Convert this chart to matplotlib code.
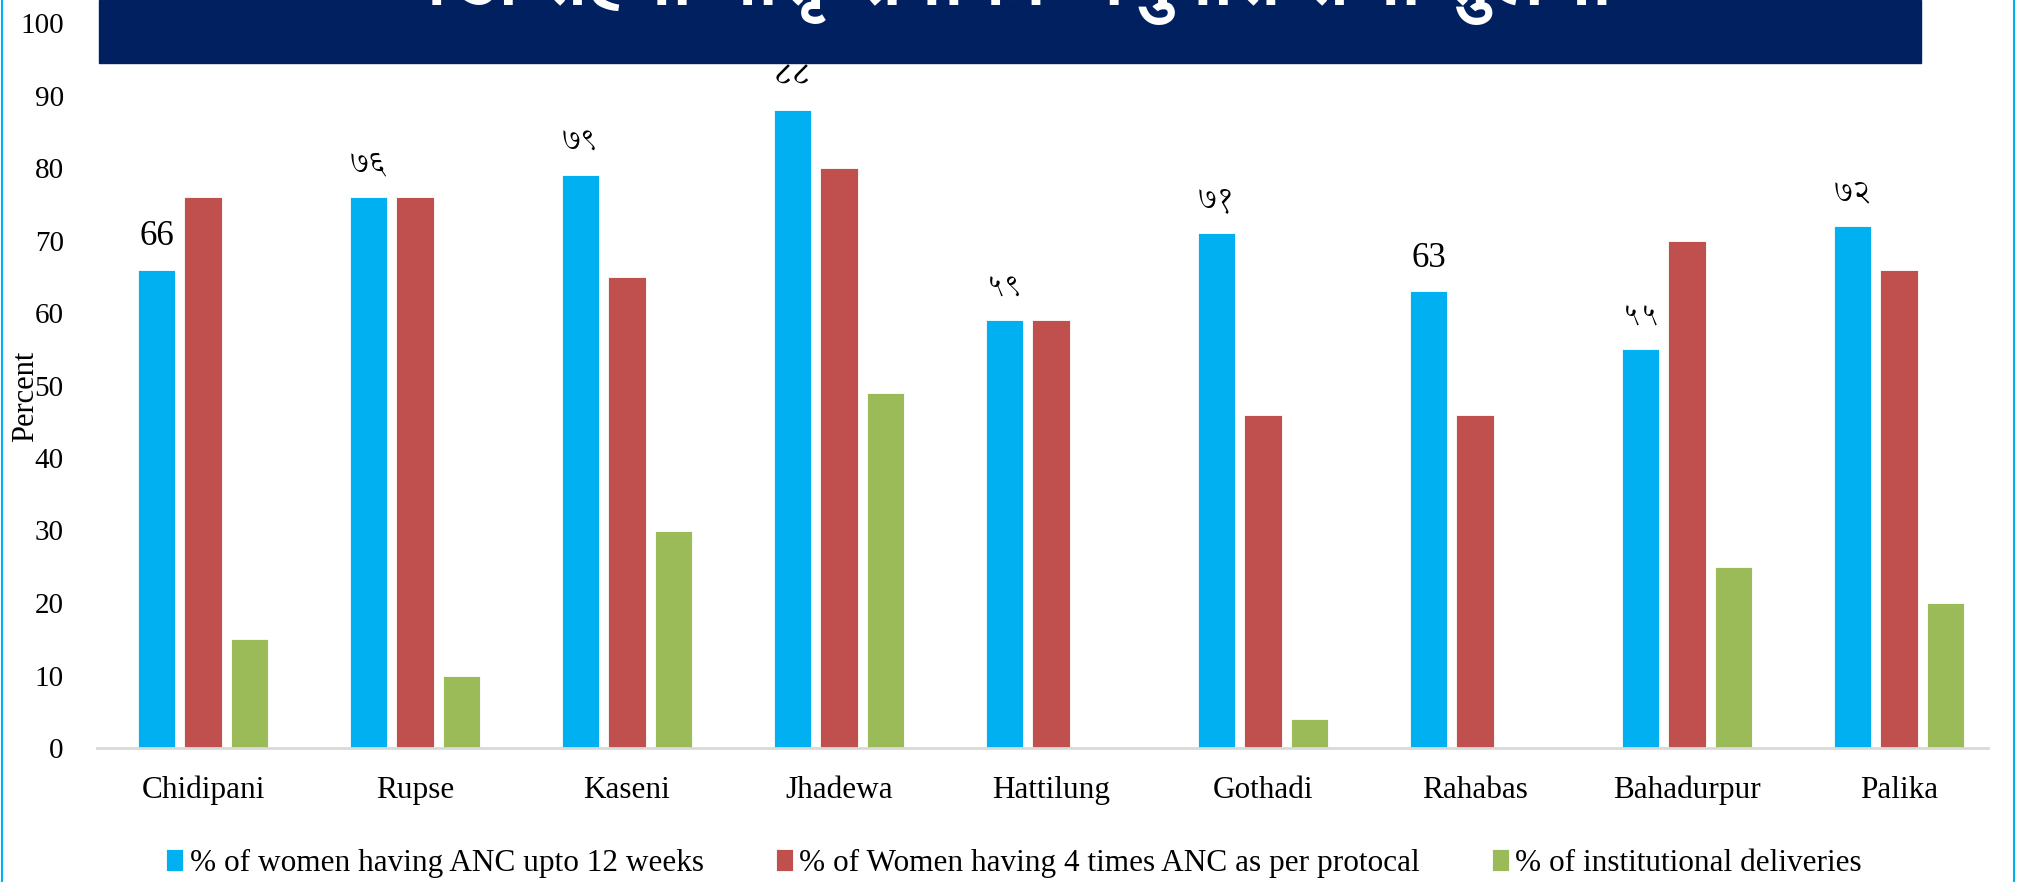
import matplotlib
matplotlib.use("Agg")
import matplotlib.pyplot as plt
import numpy as np

villages = ["Chidipani", "Rupse", "Kaseni", "Jhadewa", "Hattilung",
            "Gothadi", "Rahabas", "Bahadurpur", "Palika"]
anc_12_weeks = [66, 76, 79, 88, 59, 71, 63, 55, 72]
anc_4_times = [76, 76, 65, 80, 59, 46, 46, 70, 66]
inst_delivery = [15, 10, 30, 49, 0, 4, 0, 25, 20]
# labels on the blue bars, mixed digits as in the original slide
value_labels = ["66", "७६", "७९", "८८", "५९", "७१", "63", "५५", "७२"]
title = "वडा तहमा मातृ सेवाको अनुपात तथा तुलना"

fig = plt.figure(figsize=(20.19, 8.82), dpi=100)
ax = fig.add_axes([97 / 2019, 1 - 748 / 882, (2005 - 97) / 2019, (748 - 23) / 882])

x = np.arange(len(villages))
w = 0.175
step = 0.219
ax.bar(x - step, anc_12_weeks, w, color="#00B0F0", edgecolor="white", linewidth=0.6,
       label="% of women having ANC upto 12 weeks")
ax.bar(x, anc_4_times, w, color="#C0504D", edgecolor="white", linewidth=0.6,
       label="% of Women having 4 times ANC as per protocal")
ax.bar(x + step, inst_delivery, w, color="#9BBB59", edgecolor="white", linewidth=0.6,
       label="% of institutional deliveries")

for xi, v, lab in zip(x, anc_12_weeks, value_labels):
    if lab.isascii():
        ax.annotate(lab, (xi - step, v), xytext=(0, 12), textcoords="offset points",
                    ha="center", va="bottom", fontsize=25, family="Liberation Serif")
    else:
        ax.annotate(lab, (xi - step, v), xytext=(0, 13), textcoords="offset points",
                    ha="center", va="bottom", fontsize=23, family="Annapurna SIL")

ax.set_xlim(-0.5, len(villages) - 0.5)
ax.set_ylim(0, 100)
ax.set_yticks(range(0, 101, 10))
ax.set_xticks(x)
ax.set_xticklabels(villages)
for s in ["top", "right", "left"]:
    ax.spines[s].set_visible(False)
ax.spines["bottom"].set_color("#D9D9D9")
ax.spines["bottom"].set_linewidth(2)
ax.spines["bottom"].set_bounds(-0.5, 8.42)
ax.tick_params(axis="y", length=0, labelsize=21, pad=24)
ax.tick_params(axis="x", length=0, labelsize=22.5, pad=20)
for t in ax.get_xticklabels() + ax.get_yticklabels():
    t.set_family("Liberation Serif")
ax.set_ylabel("Percent", family="Liberation Serif", fontsize=22)
ax.yaxis.set_label_coords(-0.030, 0.485)

# dark title band, text runs off the top like the slide
fig.patches.append(plt.Rectangle((99 / 2019, 1 - 63 / 882), (1921 - 99) / 2019, 63 / 882,
                                 transform=fig.transFigure, color="#002060", zorder=5))
fig.text(1010 / 2019, 1 - 3 / 882, title, color="white", family=["FreeSans"],
         fontsize=56, fontweight="bold", ha="center", va="baseline", zorder=6)

fig.legend(loc="center", bbox_to_anchor=(1014 / 2019, 19 / 882), ncol=3, frameon=False,
           prop={"family": "Liberation Serif", "size": 22.5}, handlelength=0.55,
           handleheight=0.7, columnspacing=2.3, handletextpad=0.2)

# slide frame
fig.add_artist(plt.Line2D([2 / 2019, 2 / 2019], [0, 1], color="#00B0F0", lw=1.5))
fig.add_artist(plt.Line2D([2014 / 2019, 2014 / 2019], [0, 1], color="#00B0F0", lw=1.5))

fig.savefig("out.png", dpi=100)
